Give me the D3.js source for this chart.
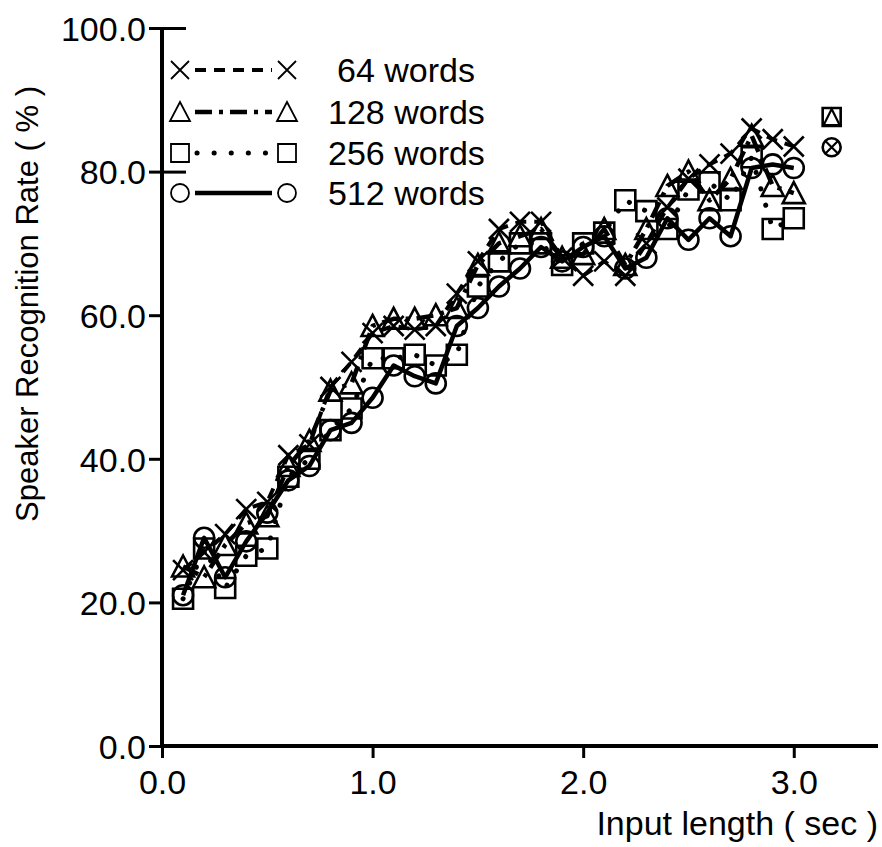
<!DOCTYPE html>
<html><head><meta charset="utf-8">
<script src="https://cdn.jsdelivr.net/npm/d3@7"></script>
<style>html,body{margin:0;padding:0;background:#fff;}svg{display:block;font-family:"Liberation Sans",Arial,Helvetica,sans-serif;}</style>
</head><body><svg id="c" width="882" height="847"></svg>
<script>
const xValues = [0.1,0.2,0.3,0.4,0.5,0.6,0.7,0.8,0.9,1.0,1.1,1.2,1.3,1.4,1.5,1.6,1.7,1.8,1.9,2.0,2.1,2.2,2.3,2.4,2.5,2.6,2.7,2.8,2.9,3.0];
const words64  = [24.5,27,29.5,33,34,40.5,42,50,53.5,57.5,58.5,58,58.5,63,67.5,72,73,73,68,65.5,67.5,65.5,70,75,79,81,82.5,86,84.5,83.5];
const words128 = [25,23.5,28,31,32,39,42.5,49.5,50.5,58.5,59.5,59.5,60,61,67,70,71,72,68,68.5,72,67,72,78,80,76,79,85,78,77];
const words256 = [20.5,27.5,22,26.5,27.5,37.5,40,44,47,54,54,54.5,53,54.5,64,67.5,70,70,67,70,71.5,76,74.5,72,77.5,78.5,76,82,72,73.5];
const words512 = [21,29,23.5,28.5,32.5,37,39,44,45,48.5,53,51.5,50.5,58.5,61,64,66.5,69.5,67.5,69.5,71,66.5,68,73.5,70.5,73.5,71,80.5,81,80.5];
const seriesNames = ["64 words","128 words","256 words","512 words"];
const xTicks = [0,1,2,3];
const yTicks = [0,20,40,60,80,100];
const sideX = 3.18;
const sideValues = [87.6, 83.4];

const svg = d3.select("#c");
const x = d3.scaleLinear().domain([0,3.4]).range([162,878]);
const y = d3.scaleLinear().domain([0,100]).range([746,28]);

const series = [
  {name:seriesNames[0], vals:words64, sym:"x", dash:"11,8", w:4},
  {name:seriesNames[1], vals:words128, sym:"tri", dash:"17,7,4,7", w:4.5},
  {name:seriesNames[2], vals:words256, sym:"sq", dash:"0.1,17", w:5, cap:"round"},
  {name:seriesNames[3], vals:words512, sym:"circ", dash:null, w:4.5}
];

function symPath(sym, s){
  const h = s/2;
  if(sym==="x") return `M${-h},${-h}L${h},${h}M${-h},${h}L${h},${-h}`;
  if(sym==="tri") return `M0,${-h-1}L${h+1},${h}L${-h-1},${h}Z`;
  if(sym==="sq") return `M${-h},${-h}H${h}V${h}H${-h}Z`;
  if(sym==="circ") return `M${h},0A${h},${h} 0 1,1 ${-h},0A${h},${h} 0 1,1 ${h},0Z`;
}

// axes
const gx = svg.append("g").attr("transform","translate(0,746)")
  .call(d3.axisBottom(x).tickValues(xTicks).tickSize(12).tickFormat(d3.format(".1f")));
const gy = svg.append("g").attr("transform","translate(162,0)")
  .call(d3.axisLeft(y).tickValues(yTicks).tickSize(13).tickFormat(d3.format(".1f")));
[gx,gy].forEach(g=>{
  g.select(".domain").attr("stroke","#000").attr("stroke-width",4);
  g.selectAll(".tick line").attr("stroke","#000").attr("stroke-width",3);
  g.selectAll(".tick text").attr("fill","#000").attr("font-size",34).attr("font-family","Liberation Sans, Arial, sans-serif");
});
gx.select(".domain").attr("d",`M${x(0)-2},0H${x(3.4)}`);
gy.select(".domain").attr("d",`M0,${y(100)}V${y(0)+2}`);
gy.selectAll(".tick line").attr("x2",-13).attr("x1",0);
gy.selectAll(".tick").filter(d=>d>=80).append("line").attr("x1",0).attr("x2",24).attr("stroke","#000").attr("stroke-width",3);
gx.selectAll(".tick text").attr("dy","0.98em");
gy.selectAll(".tick text").attr("x",-16).attr("dy","0.36em");

// lines
const line = d3.line().x((d,i)=>x(xValues[i])).y(d=>y(d));
series.forEach(s=>{
  svg.append("path").datum(s.vals).attr("d",line).attr("fill","none")
    .attr("stroke","#000").attr("stroke-width",s.w)
    .attr("stroke-dasharray",s.dash).attr("stroke-linecap",s.cap||"butt").attr("stroke-linejoin","round");
});
// markers
series.forEach(s=>{
  svg.append("g").selectAll("path").data(s.vals).join("path")
    .attr("transform",(d,i)=>`translate(${x(xValues[i])},${y(d)})`)
    .attr("d",symPath(s.sym,20)).attr("fill","none").attr("stroke","#000").attr("stroke-width",2.6);
});
// side markers
svg.append("path").attr("transform",`translate(${x(sideX)},${y(sideValues[0])})`).attr("d",symPath("sq",18)).attr("fill","none").attr("stroke","#000").attr("stroke-width",2.6);
svg.append("path").attr("transform",`translate(${x(sideX)},${y(sideValues[0])})`).attr("d",`M0,-8L8,8L-8,8Z`).attr("fill","none").attr("stroke","#000").attr("stroke-width",2.2);
svg.append("path").attr("transform",`translate(${x(sideX)},${y(sideValues[1])})`).attr("d",symPath("circ",18)).attr("fill","none").attr("stroke","#000").attr("stroke-width",2.6);
svg.append("path").attr("transform",`translate(${x(sideX)},${y(sideValues[1])})`).attr("d",symPath("x",12)).attr("fill","none").attr("stroke","#000").attr("stroke-width",2.2);

// legend
const legY = [70,112,153,193];
series.forEach((s,i)=>{
  const g = svg.append("g").attr("transform",`translate(0,${legY[i]})`);
  g.append("path").attr("d",`M${i===2?197:195},0H${i===2?276:272}`).attr("stroke","#000").attr("stroke-width",s.w)
    .attr("stroke-dasharray",s.dash).attr("stroke-linecap",s.cap||"butt");
  [180,287].forEach(px=>g.append("path").attr("transform",`translate(${px},0)`).attr("d",symPath(s.sym,18)).attr("fill","#fff").attr("stroke","#000").attr("stroke-width",1.8));
  g.append("text").attr("x",i===0?337:328).attr("y",12).attr("font-size",34).attr("fill","#000").text(s.name);
});

// axis titles
svg.append("text").attr("x",878).attr("y",835).attr("text-anchor","end").attr("font-size",34).text("Input length ( sec )");
svg.append("text").attr("transform","translate(38,304) rotate(-90)").attr("text-anchor","middle").attr("font-size",31).text("Speaker Recognition Rate ( % )");
</script></body></html>
